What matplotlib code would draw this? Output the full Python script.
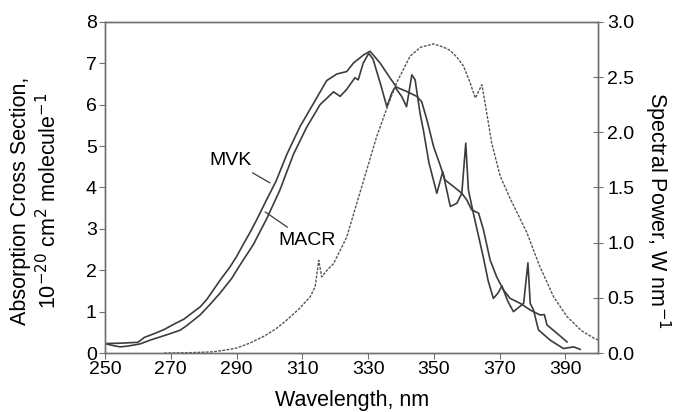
import matplotlib
matplotlib.use('Agg')
import matplotlib.pyplot as plt

plt.rcParams['font.family'] = ['Liberation Sans', 'DejaVu Sans']

# absorption cross sections, 1e-20 cm2 molecule-1
mvk_wl = [250, 255, 260, 262, 265, 268, 271, 274, 277, 279, 281, 285, 288, 290, 292, 294,
          296, 299, 302, 305.3, 309.3, 313.4, 317.4, 320.5, 323.5, 325.5, 328.6, 330.6,
          333.7, 336.7, 338.7, 341.7, 344.8, 346.3, 347.9, 349.9, 351.9, 353.4, 356,
          358.5, 360, 361.5, 363.6, 365.1, 367.1, 369.1, 371.2, 373.2, 376.3, 379.3,
          382.3, 383.6, 384.4, 387.4, 390.5]
mvk_xs = [0.23, 0.24, 0.26, 0.38, 0.47, 0.57, 0.70, 0.82, 1.0, 1.12, 1.30, 1.76, 2.08, 2.33,
          2.62, 2.90, 3.20, 3.68, 4.15, 4.80, 5.47, 6.03, 6.58, 6.74, 6.80, 7.0, 7.2, 7.29,
          7.0, 6.64, 6.42, 6.32, 6.20, 6.07, 5.63, 4.99, 4.54, 4.18, 4.02, 3.86, 3.70,
          3.46, 3.38, 2.97, 2.25, 1.84, 1.52, 1.32, 1.20, 1.04, 0.92, 0.93, 0.68, 0.48, 0.27]

macr_wl = [250, 252, 254.6, 257, 260.6, 264, 268.7, 272.8, 274.8, 278.9, 282, 285, 288.5,
           291, 295.1, 299.2, 303.2, 307.3, 311.3, 315.4, 319.5, 321.5, 323.5, 326, 327,
           328.5, 330.2, 331.5, 333.7, 335.7, 337.2, 338.2, 340.2, 341.7, 343.3, 344.3,
           345.8, 346.8, 348.5, 350.9, 352.7, 355, 357, 358.5, 359.7, 360.5, 362, 365,
           366.5, 368.1, 369.5, 370.7, 372.5, 374.2, 377.3, 378.6, 379.3, 380.3, 381.8,
           385.4, 389.4, 392.5, 394.5]
macr_xs = [0.23, 0.19, 0.15, 0.17, 0.22, 0.32, 0.44, 0.55, 0.66, 0.92, 1.18, 1.45, 1.80,
           2.12, 2.62, 3.25, 3.94, 4.80, 5.45, 6.00, 6.31, 6.20, 6.37, 6.65, 6.60, 7.0,
           7.24, 7.1, 6.52, 5.95, 6.28, 6.42, 6.20, 5.95, 6.72, 6.60, 5.79, 5.39, 4.6,
           3.86, 4.38, 3.54, 3.62, 3.86, 5.07, 3.94, 3.38, 2.33, 1.75, 1.32, 1.45, 1.62,
           1.25, 1.0, 1.2, 2.18, 1.2, 1.04, 0.56, 0.31, 0.11, 0.15, 0.09]

# spectral power, W nm-1
sp_wl = [268, 275, 280, 283, 286, 290, 294, 298.2, 302, 305.3, 309, 312.4, 313.9, 315,
         315.9, 317.5, 319.5, 323.5, 328, 332.6, 335.5, 338.7, 342.8, 346, 349.9, 353,
         355, 357, 359, 361, 362.6, 364.6, 365.6, 367.6, 370.2, 373.2, 378.3, 382,
         386.4, 390.5, 395, 399, 400]
sp_pw = [0.0, 0.003, 0.008, 0.012, 0.025, 0.045, 0.09, 0.15, 0.22, 0.30, 0.40, 0.51, 0.60,
         0.84, 0.69, 0.75, 0.81, 1.05, 1.50, 1.96, 2.20, 2.45, 2.69, 2.77, 2.80, 2.77,
         2.74, 2.68, 2.60, 2.45, 2.31, 2.43, 2.26, 1.90, 1.60, 1.40, 1.09, 0.80, 0.51,
         0.33, 0.20, 0.13, 0.12]

xticks = [250, 270, 290, 310, 330, 350, 370, 390]

fig = plt.figure(figsize=(6.73, 4.12), dpi=100)
ax = fig.add_axes([0.156, 0.143, 0.733, 0.804])
ax2 = ax.twinx()

lc = '#3c3c3c'
ax.plot(mvk_wl, mvk_xs, color=lc, lw=1.2)
ax.plot(macr_wl, macr_xs, color=lc, lw=1.2)
ax2.plot(sp_wl, sp_pw, color='#555555', lw=1.0, ls=(0, (2, 1)))

ax.annotate('MVK', xy=(300.2, 4.11), xytext=(288.2, 4.66), ha='center', va='center',
            fontsize=14, arrowprops=dict(arrowstyle='-', color=lc, lw=0.9, shrinkA=2, shrinkB=0))
ax.annotate('MACR', xy=(298.7, 3.41), xytext=(311.5, 2.71), ha='center', va='center',
            fontsize=14, arrowprops=dict(arrowstyle='-', color=lc, lw=0.9, shrinkA=3, shrinkB=0))

ax.set_xlim(250, 400)
ax.set_ylim(0, 8)
ax2.set_ylim(0, 3.0)
ax.set_xticks(xticks)
ax2.set_yticks([0, 0.5, 1.0, 1.5, 2.0, 2.5, 3.0])
ax2.set_yticklabels(['0.0', '0.5', '1.0', '1.5', '2.0', '2.5', '3.0'])

for a in (ax, ax2):
    for s in a.spines.values():
        s.set_color('#707070')
        s.set_linewidth(1.0)
ax.tick_params(axis='both', direction='out', length=4, color='#707070', labelsize=14, pad=2)
ax2.tick_params(axis='y', direction='inout', length=7, color='#707070', labelsize=14, pad=3)

ax.set_xlabel('Wavelength, nm', fontsize=15.5, labelpad=8)
ax.text(-0.14, 0.46, 'Absorption Cross Section,\n10$^{-20}$ cm$^2$ molecule$^{-1}$',
        transform=ax.transAxes, rotation=90, ha='center', va='center', fontsize=15.5,
        linespacing=1.25)
ax2.text(1.12, 0.43, 'Spectral Power, W nm$^{-1}$', transform=ax2.transAxes, rotation=270,
         ha='center', va='center', fontsize=15.5)

fig.savefig('out.png', dpi=100)
